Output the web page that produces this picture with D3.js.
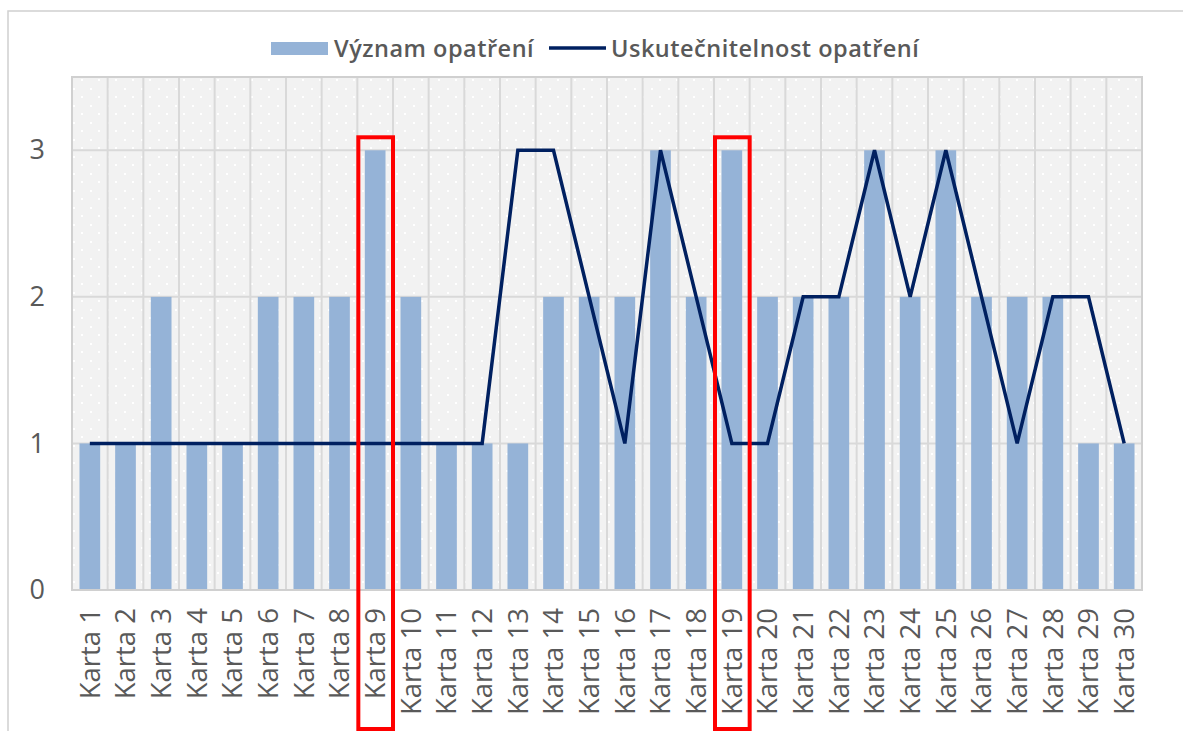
<!DOCTYPE html>
<html>
<head>
<meta charset="utf-8">
<script src="https://cdn.jsdelivr.net/npm/d3@7"></script>
<style>
  body { margin: 0; background: #fff; }
  svg { display: block; }
</style>
</head>
<body>
<div id="chart"></div>
<script>
// data
let categories = d3.range(1, 31).map(function (i) { return "Karta " + i })
let vyznam = [1, 1, 2, 1, 1, 2, 2, 2, 3, 2, 1, 1, 1, 2, 2, 2, 3, 2, 3, 2, 2, 2, 3, 2, 3, 2, 2, 2, 1, 1]
let uskutecnitelnost = [1, 1, 1, 1, 1, 1, 1, 1, 1, 1, 1, 1, 3, 3, 2, 1, 3, 2, 1, 1, 2, 2, 3, 2, 3, 2, 1, 2, 2, 1]
let yTicks = [0, 1, 2, 3]
let highlighted = ["Karta 9", "Karta 19"]
let seriesNames = ["Význam opatření", "Uskutečnitelnost opatření"]

let width = 1183, height = 731
let margin = { left: 72, right: 41, top: 77, bottom: 141 }
let barColor = "#95b3d7", lineColor = "#002060", gridColor = "#d9d9d9", textColor = "#595959"

let svg = d3.select("#chart").append("svg")
    .attr("width", width)
    .attr("height", height)

// dotted plot background
let defs = svg.append("defs")
let pat = defs.append("pattern")
    .attr("id", "dots")
    .attr("patternUnits", "userSpaceOnUse")
    .attr("width", 17).attr("height", 17)
pat.append("rect").attr("width", 17).attr("height", 17).attr("fill", "#f2f2f2")
pat.append("rect").attr("x", 5).attr("y", 3).attr("width", 2).attr("height", 2).attr("fill", "#fff")
pat.append("rect").attr("x", 13).attr("y", 11).attr("width", 2).attr("height", 2).attr("fill", "#fff")

// outer chart frame (cut at right/bottom like the screenshot)
svg.append("rect")
    .attr("x", 8).attr("y", 11)
    .attr("width", width).attr("height", height)
    .attr("fill", "none")
    .attr("stroke", "#d0d0d0")
    .attr("stroke-width", 1.5)

let x = d3.scaleBand()
    .domain(categories)
    .range([margin.left, width - margin.right])
    .paddingInner(0.42)
    .paddingOuter(0.21)

let y = d3.scaleLinear()
    .domain([0, 3.5])
    .range([height - margin.bottom, margin.top])

let step = x.step()
let x0 = margin.left, x1 = width - margin.right

svg.append("rect")
    .attr("x", x0).attr("y", y(3.5))
    .attr("width", x1 - x0).attr("height", y(0) - y(3.5))
    .attr("fill", "url(#dots)")

// vertical gridlines between categories
svg.append("g")
    .selectAll("line")
    .data(categories.slice(1))
    .join("line")
    .attr("x1", function (d) { return x(d) - step * 0.21 })
    .attr("x2", function (d) { return x(d) - step * 0.21 })
    .attr("y1", y(3.5))
    .attr("y2", y(0))
    .attr("stroke", gridColor)
    .attr("stroke-width", 2)

// horizontal gridlines
svg.append("g")
    .selectAll("line")
    .data(yTicks.filter(function (d) { return d > 0 }))
    .join("line")
    .attr("x1", x0).attr("x2", x1)
    .attr("y1", function (d) { return y(d) })
    .attr("y2", function (d) { return y(d) })
    .attr("stroke", gridColor)
    .attr("stroke-width", 2)

// plot border
svg.append("rect")
    .attr("x", x0).attr("y", y(3.5))
    .attr("width", x1 - x0).attr("height", y(0) - y(3.5))
    .attr("fill", "none")
    .attr("stroke", "#d0d0d0")
    .attr("stroke-width", 2)

// bars
svg.append("g")
    .selectAll("rect")
    .data(vyznam)
    .join("rect")
    .attr("x", function (d, i) { return x(categories[i]) })
    .attr("width", x.bandwidth())
    .attr("y", function (d) { return y(d) })
    .attr("height", function (d) { return y(0) - y(d) - 1 })
    .attr("fill", barColor)

// line
let line = d3.line()
    .x(function (d, i) { return x(categories[i]) + x.bandwidth() / 2 })
    .y(function (d) { return y(d) })

svg.append("path")
    .datum(uskutecnitelnost)
    .attr("d", line)
    .attr("fill", "none")
    .attr("stroke", lineColor)
    .attr("stroke-width", 3.5)
    .attr("stroke-linejoin", "miter")

// y axis labels
let yAxis = d3.axisLeft(y).tickValues(yTicks).tickFormat(d3.format("d")).tickSize(0).tickPadding(27)
let gy = svg.append("g")
    .attr("transform", "translate(" + x0 + ",0)")
    .call(yAxis)
gy.select(".domain").remove()
gy.selectAll("text")
    .attr("fill", textColor)
    .style("font-family", "'Open Sans', 'Noto Sans', sans-serif")
    .style("font-size", "27px")

// x axis labels, rotated
let xAxis = d3.axisBottom(x).tickSize(0).tickPadding(0)
let gx = svg.append("g")
    .attr("transform", "translate(0," + y(0) + ")")
    .call(xAxis)
gx.select(".domain").remove()
gx.selectAll("text")
    .attr("fill", textColor)
    .style("font-family", "'Open Sans', 'Noto Sans', sans-serif")
    .style("font-size", "27.5px")
    .attr("text-anchor", "end")
    .attr("transform", "rotate(-90)")
    .attr("x", -18)
    .attr("y", 0)
    .attr("dy", "0.36em")

// highlight boxes
svg.append("g")
    .selectAll("rect")
    .data(highlighted)
    .join("rect")
    .attr("x", function (d) { return x(d) - step * 0.21 + 1 })
    .attr("width", step - 1)
    .attr("y", y(3) - 13)
    .attr("height", height - 2 - (y(3) - 13))
    .attr("fill", "none")
    .attr("stroke", "#ff0000")
    .attr("stroke-width", 4)

// legend
let legend = svg.append("g")
legend.append("rect")
    .attr("x", 271).attr("y", 42)
    .attr("width", 57).attr("height", 13)
    .attr("fill", barColor)
legend.append("text")
    .attr("x", 334).attr("y", 57)
    .text(seriesNames[0])
legend.append("line")
    .attr("x1", 549).attr("x2", 606)
    .attr("y1", 48).attr("y2", 48)
    .attr("stroke", lineColor)
    .attr("stroke-width", 3.5)
legend.append("text")
    .attr("x", 611).attr("y", 57)
    .text(seriesNames[1])
legend.selectAll("text")
    .attr("fill", textColor)
    .style("font-family", "'Open Sans', 'Noto Sans', sans-serif")
    .style("font-weight", 600)
    .style("font-size", "23.5px")
    .style("letter-spacing", "0.5px")
</script>
</body>
</html>
